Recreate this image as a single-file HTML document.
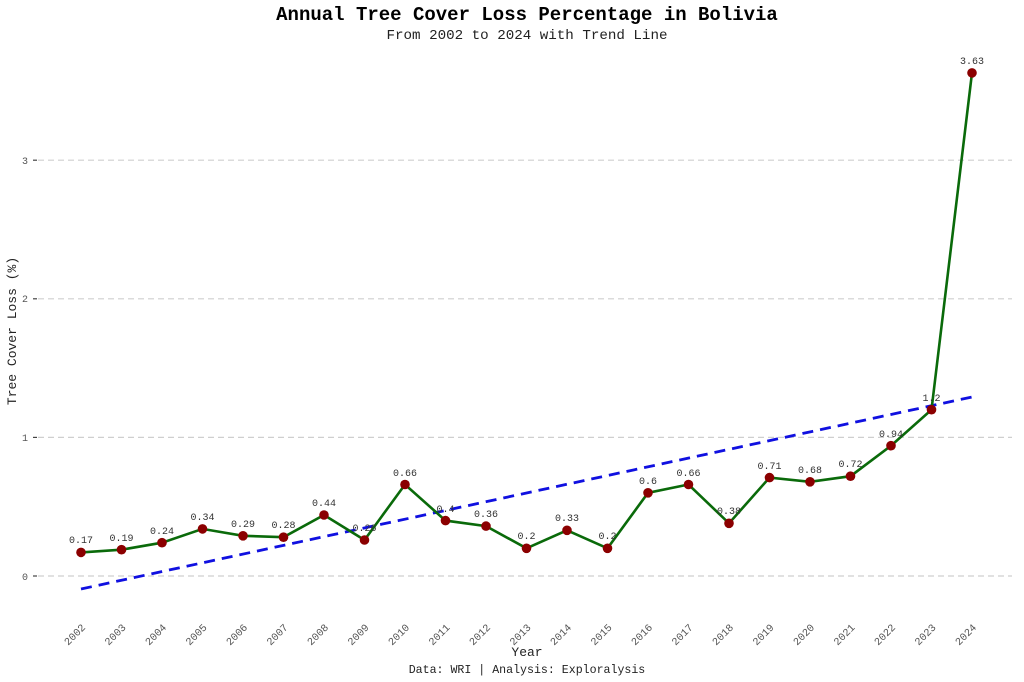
<!DOCTYPE html>
<html><head><meta charset="utf-8"><style>
html,body{margin:0;padding:0;background:#fff;}
svg{display:block;font-family:"Liberation Mono",monospace;}
</style></head><body>
<svg width="1024" height="682" viewBox="0 0 1024 682" xmlns="http://www.w3.org/2000/svg">
<text x="527" y="20" font-size="19" font-weight="bold" text-anchor="middle" fill="#000">Annual Tree Cover Loss Percentage in Bolivia</text>
<text x="527" y="39" font-size="14.2" text-anchor="middle" fill="#222">From 2002 to 2024 with Trend Line</text>
<g stroke="#cfcfcf" stroke-width="1.2" stroke-dasharray="6,4">
<line x1="38" y1="576" x2="1012" y2="576"/>
<line x1="38" y1="437.4" x2="1012" y2="437.4"/>
<line x1="38" y1="298.8" x2="1012" y2="298.8"/>
<line x1="38" y1="160.2" x2="1012" y2="160.2"/>
</g>
<g stroke="#444" stroke-width="1.2">
<line x1="33" y1="576" x2="37" y2="576"/><line x1="33" y1="437.4" x2="37" y2="437.4"/><line x1="33" y1="298.8" x2="37" y2="298.8"/><line x1="33" y1="160.2" x2="37" y2="160.2"/>
</g>
<g font-size="10" fill="#555" text-anchor="end">
<text x="28" y="580">0</text><text x="28" y="441">1</text><text x="28" y="302">2</text><text x="28" y="164">3</text>
</g>
<text transform="translate(16,331) rotate(-90)" font-size="13" text-anchor="middle" fill="#222">Tree Cover Loss (%)</text>
<line x1="81" y1="589" x2="972" y2="397" stroke="#1010e0" stroke-width="2.8" stroke-dasharray="11,7"/>
<polyline fill="none" stroke="#0a6a0a" stroke-width="2.6" points="81,552.4 121.5,549.7 162,542.7 202.5,528.9 243,535.8 283.5,537.2 324,515 364.5,540 405,484.5 445.5,520.6 486,526.1 526.5,548.3 567,530.3 607.5,548.3 648,492.8 688.5,484.5 729,523.3 769.5,477.6 810,481.8 850.5,476.2 891,445.7 931.5,409.7 972,72.9"/>
<g fill="#8b0000">
<circle cx="81" cy="552.4" r="4.8"/><circle cx="121.5" cy="549.7" r="4.8"/><circle cx="162" cy="542.7" r="4.8"/><circle cx="202.5" cy="528.9" r="4.8"/><circle cx="243" cy="535.8" r="4.8"/><circle cx="283.5" cy="537.2" r="4.8"/><circle cx="324" cy="515" r="4.8"/><circle cx="364.5" cy="540" r="4.8"/><circle cx="405" cy="484.5" r="4.8"/><circle cx="445.5" cy="520.6" r="4.8"/><circle cx="486" cy="526.1" r="4.8"/><circle cx="526.5" cy="548.3" r="4.8"/><circle cx="567" cy="530.3" r="4.8"/><circle cx="607.5" cy="548.3" r="4.8"/><circle cx="648" cy="492.8" r="4.8"/><circle cx="688.5" cy="484.5" r="4.8"/><circle cx="729" cy="523.3" r="4.8"/><circle cx="769.5" cy="477.6" r="4.8"/><circle cx="810" cy="481.8" r="4.8"/><circle cx="850.5" cy="476.2" r="4.8"/><circle cx="891" cy="445.7" r="4.8"/><circle cx="931.5" cy="409.7" r="4.8"/><circle cx="972" cy="72.9" r="4.8"/>
</g>
<g font-size="10" fill="#333" text-anchor="middle">
<text x="81" y="543">0.17</text><text x="121.5" y="541">0.19</text><text x="162" y="534">0.24</text><text x="202.5" y="520">0.34</text><text x="243" y="527">0.29</text><text x="283.5" y="528">0.28</text><text x="324" y="506">0.44</text><text x="364.5" y="531">0.26</text><text x="405" y="476">0.66</text><text x="445.5" y="512">0.4</text><text x="486" y="517">0.36</text><text x="526.5" y="539">0.2</text><text x="567" y="521">0.33</text><text x="607.5" y="539">0.2</text><text x="648" y="484">0.6</text><text x="688.5" y="476">0.66</text><text x="729" y="514">0.38</text><text x="769.5" y="469">0.71</text><text x="810" y="473">0.68</text><text x="850.5" y="467">0.72</text><text x="891" y="437">0.94</text><text x="931.5" y="401">1.2</text><text x="972" y="64">3.63</text>
</g>
<g font-size="10.5" fill="#555" text-anchor="end">
<text transform="translate(86,628) rotate(-45)">2002</text><text transform="translate(126.5,628) rotate(-45)">2003</text><text transform="translate(167,628) rotate(-45)">2004</text><text transform="translate(207.5,628) rotate(-45)">2005</text><text transform="translate(248,628) rotate(-45)">2006</text><text transform="translate(288.5,628) rotate(-45)">2007</text><text transform="translate(329,628) rotate(-45)">2008</text><text transform="translate(369.5,628) rotate(-45)">2009</text><text transform="translate(410,628) rotate(-45)">2010</text><text transform="translate(450.5,628) rotate(-45)">2011</text><text transform="translate(491,628) rotate(-45)">2012</text><text transform="translate(531.5,628) rotate(-45)">2013</text><text transform="translate(572,628) rotate(-45)">2014</text><text transform="translate(612.5,628) rotate(-45)">2015</text><text transform="translate(653,628) rotate(-45)">2016</text><text transform="translate(693.5,628) rotate(-45)">2017</text><text transform="translate(734,628) rotate(-45)">2018</text><text transform="translate(774.5,628) rotate(-45)">2019</text><text transform="translate(815,628) rotate(-45)">2020</text><text transform="translate(855.5,628) rotate(-45)">2021</text><text transform="translate(896,628) rotate(-45)">2022</text><text transform="translate(936.5,628) rotate(-45)">2023</text><text transform="translate(977,628) rotate(-45)">2024</text>
</g>
<text x="527" y="656" font-size="13" text-anchor="middle" fill="#222">Year</text>
<text x="527" y="673" font-size="11.6" text-anchor="middle" fill="#222">Data: WRI | Analysis: Exploralysis</text>
</svg>
</body></html>
